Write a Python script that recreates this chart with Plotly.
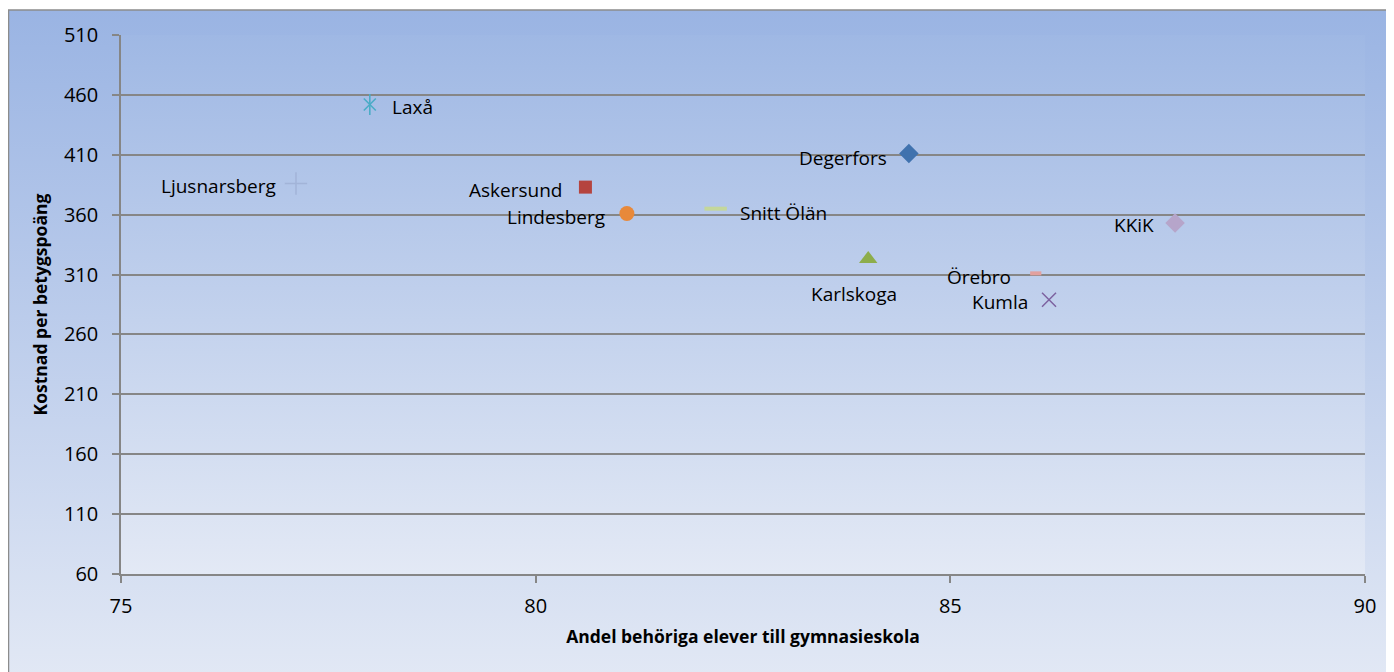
import base64
import plotly.graph_objects as go

# ---- data ----
names = ["Degerfors", "Askersund", "Karlskoga", "Laxå", "Ljusnarsberg",
         "Lindesberg", "Snitt Ölän", "Örebro", "Kumla", "KKiK"]
x_vals = [84.50, 80.60, 84.01, 78.00, 77.11, 81.10, 82.17, 86.03, 86.19, 87.71]
y_vals = [411, 383, 323, 452, 386, 361, 365, 311, 289, 353]
x_ticks = [75, 80, 85, 90]
y_ticks = [60, 110, 160, 210, 260, 310, 360, 410, 460, 510]

# ---- styles ----
styles = {
    "Degerfors":    dict(symbol="diamond", size=15, color="#4072AE", lw=0),
    "Askersund":    dict(symbol="square", size=13, color="#B5443F", lw=0),
    "Karlskoga":    dict(symbol="triangle-up", size=16, color="#8DAD4B", lw=0),
    "Laxå":         dict(symbol="x-thin-open", size=12, color="#4BACC6", lw=1.6),
    "Ljusnarsberg": dict(symbol="cross-thin-open", size=16, color="#A2B4D8", lw=1.5),
    "Lindesberg":   dict(symbol="circle", size=15, color="#E8893A", lw=0),
    "Snitt Ölän":   dict(symbol="line-ew-open", size=16, color="#C4D79B", lw=4),
    "Örebro":       dict(symbol="line-ew-open", size=8, color="#E2A09E", lw=4),
    "Kumla":        dict(symbol="x-thin-open", size=14, color="#7D62A0", lw=1.5),
    "KKiK":         dict(symbol="diamond", size=15, color="#B6A5CA", lw=0),
}
# label offsets (px): (xanchor, xshift, yshift)
label_pos = {
    "Degerfors":    ("right", -20, -4),
    "Askersund":    ("right", -21, -3),
    "Karlskoga":    ("center", -14, -35),
    "Laxå":         ("left", 20, -3),
    "Ljusnarsberg": ("right", -18, -2),
    "Lindesberg":   ("right", -20, -4),
    "Snitt Ölän":   ("left", 22, -4),
    "Örebro":       ("right", -23, -4),
    "Kumla":        ("right", -19, -2),
    "KKiK":         ("right", -19, -2),
}

FONT = "Open Sans"
LABEL_SIZE = 19
TICK_SIZE = 20
fig = go.Figure()
for i, n in enumerate(names):
    s = styles[n]
    fig.add_trace(go.Scatter(
        x=[x_vals[i]], y=[y_vals[i]], mode="markers", name=n,
        marker=dict(symbol=s["symbol"], size=s["size"], color=s["color"],
                    line=dict(color=s["color"], width=s["lw"])),
        showlegend=False, hoverinfo="text", hovertext=n))
    if n == "Laxå":
        fig.add_trace(go.Scatter(
            x=[x_vals[i]], y=[y_vals[i]], mode="markers", showlegend=False,
            marker=dict(symbol="line-ns-open", size=15, color=s["color"],
                        line=dict(color=s["color"], width=1.6)),
            hoverinfo="skip"))
    xa, xs, ys = label_pos[n]
    fig.add_annotation(x=x_vals[i], y=y_vals[i], text=n, showarrow=False,
                       xanchor=xa, yanchor="middle", xshift=xs, yshift=ys,
                       font=dict(family=FONT, size=LABEL_SIZE, color="#000000"))


def grad_src(top, bottom):
    svg = ('<svg xmlns="http://www.w3.org/2000/svg" width="100" height="100" '
           'viewBox="0 0 100 100" preserveAspectRatio="none"><defs>'
           '<linearGradient id="g" x1="0" y1="0" x2="0" y2="1">'
           f'<stop offset="0" stop-color="{top}"/><stop offset="1" stop-color="{bottom}"/>'
           '</linearGradient></defs><rect width="100" height="100" fill="url(#g)"/></svg>')
    return "data:image/svg+xml;base64," + base64.b64encode(svg.encode()).decode()


# page has an 8px body margin; figure coordinates = page - 8
OFF = 8
PL, PR, PT, PB = 121, 1365, 35, 574   # plot area in page px
W, H = 1394 - OFF, 672 - OFF
pw, ph = PR - PL, PB - PT
L, T = PL - OFF, PT - OFF
R, B = W - (PR - OFF), H - (PB - OFF)


def px(xp):
    return (xp - PL) / pw


def py(yp):
    return (PB - yp) / ph


fig.add_layout_image(source=grad_src("#9AB4E3", "#E3E9F5"), xref="paper", yref="paper",
                     x=px(8), y=py(10), sizex=(1393 - 8) / pw, sizey=(690 - 10) / ph,
                     xanchor="left", yanchor="top", sizing="stretch", layer="below")
fig.add_layout_image(source=grad_src("#9FB8E4", "#E3E9F5"), xref="paper", yref="paper",
                     x=0, y=1, sizex=1, sizey=1,
                     xanchor="left", yanchor="top", sizing="stretch", layer="below")
fig.add_shape(type="rect", xref="paper", yref="paper", x0=px(8.5), x1=px(1393),
              y0=py(690), y1=py(10), line=dict(color="#8C8C8C", width=1.5),
              fillcolor="rgba(0,0,0,0)", layer="below")

axis_col = "#868686"
fig.update_layout(
    width=W, height=H, margin=dict(l=L, r=R, t=T, b=B),
    paper_bgcolor="white", plot_bgcolor="rgba(0,0,0,0)",
    font=dict(family=FONT, size=18, color="#000000"),
    xaxis=dict(range=[75, 90], tickvals=x_ticks, ticks="outside", ticklen=7,
               tickcolor=axis_col, tickwidth=1.5, showline=True, linecolor=axis_col,
               linewidth=1.5, showgrid=False, zeroline=False,
               tickfont=dict(family=FONT, size=TICK_SIZE), ticklabelstandoff=6,
               title=dict(text="<b>Andel behöriga elever till gymnasieskola</b>",
                          font=dict(family=FONT, size=17.5), standoff=13)),
    yaxis=dict(range=[60, 510], tickvals=y_ticks, ticks="outside", ticklen=7,
               tickcolor=axis_col, tickwidth=1.5, showline=True, linecolor=axis_col,
               linewidth=1.5, showgrid=True, gridcolor=axis_col, gridwidth=1.5,
               zeroline=False, tickfont=dict(family=FONT, size=TICK_SIZE), ticklabelstandoff=10,
               title=dict(text="<b>Kostnad per betygspoäng</b>",
                          font=dict(family=FONT, size=17.5), standoff=12)),
)

fig.write_html("out.html")
